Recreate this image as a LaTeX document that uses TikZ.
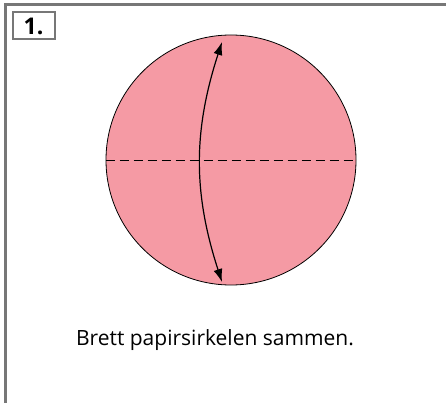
\documentclass[tikz,border=0pt]{standalone}
\usepackage{fontspec}
\setmainfont{Open Sans}
\usetikzlibrary{arrows.meta}
\definecolor{papir}{HTML}{F59AA4}
\definecolor{ramme}{HTML}{777777}
\tikzset{
	frame/.style={draw=ramme,line width=3pt},
	numbox/.style={draw=ramme,line width=2pt,minimum width=42pt,minimum height=27pt,font=\fontsize{23}{23}\selectfont\bfseries},
	fold/.style={dashed,dash pattern=on 9pt off 5pt,line width=0.9pt},
}
\begin{document}
\begin{tikzpicture}[x=1pt,y=-1pt]
	\useasboundingbox (0,0) rectangle (446,403);
	\draw[frame] (5,403) -- (5,5) -- (446,5);
	\node[numbox] (num) at (33.5,26) {1.};
	\node[draw=black,fill=papir,circle,minimum size=250pt,line width=0.8pt] (sirkel) at (231,160) {};
	\draw[fold] (sirkel.west) -- (sirkel.east);
	\coordinate (topp) at (222,42);
	\coordinate (bunn) at (222,282);
	\draw[line width=1.2pt,{Latex[length=13pt,width=9pt]}-{Latex[length=13pt,width=9pt]}] (topp) to[bend right=18] (bunn);
	\node[font=\fontsize{21}{24}\selectfont] (tekst) at (215,340) {Brett papirsirkelen sammen.};
\end{tikzpicture}
\end{document}
